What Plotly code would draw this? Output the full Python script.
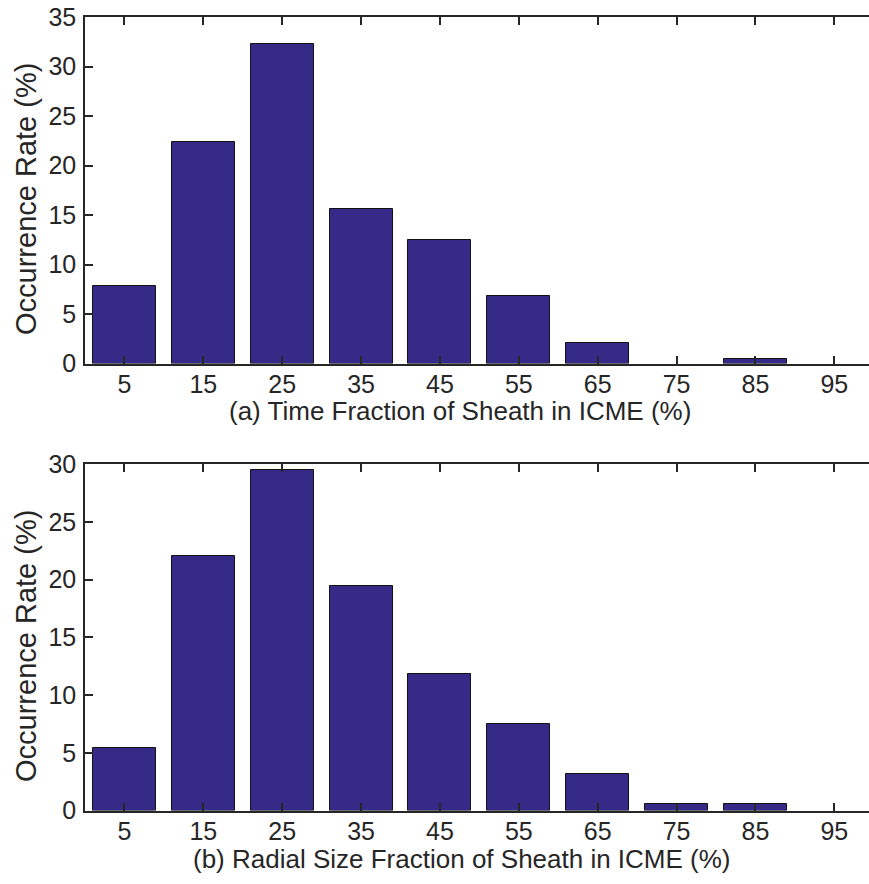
import plotly.graph_objects as go

categories = [5, 15, 25, 35, 45, 55, 65, 75, 85, 95]
time_fraction = [7.8, 22.4, 32.3, 15.6, 12.5, 6.8, 2.1, 0.0, 0.45, 0.0]
radial_fraction = [5.4, 22.0, 29.5, 19.4, 11.8, 7.5, 3.2, 0.52, 0.52, 0.0]
top_yticks = [0, 5, 10, 15, 20, 25, 30, 35]
bot_yticks = [0, 5, 10, 15, 20, 25, 30]
top_title = "(a) Time Fraction of Sheath in ICME (%)"
bot_title = "(b) Radial Size Fraction of Sheath in ICME (%)"
ytitle = "Occurrence Rate (%)"

W, H = 869, 884
L = 85
BAR = "#352A87"
AX = "#262626"
FONT = "Liberation Sans, Arial, sans-serif"

def py(px):
    return 1 - px / H

def edge_widths(vals):
    return [1 if v > 0 else 0 for v in vals]

fig = go.Figure()
fig.add_trace(go.Bar(x=categories, y=time_fraction, width=8,
                     marker=dict(color=BAR, line=dict(color="#111111", width=edge_widths(time_fraction))),
                     xaxis="x", yaxis="y", showlegend=False))
fig.add_trace(go.Bar(x=categories, y=radial_fraction, width=8,
                     marker=dict(color=BAR, line=dict(color="#111111", width=edge_widths(radial_fraction))),
                     xaxis="x2", yaxis="y2", showlegend=False))

xcommon = dict(range=[0, 99.4], tickvals=categories, ticks="inside", ticklen=8, tickwidth=1.5, tickcolor=AX,
               showline=True, linecolor=AX, linewidth=1.5, mirror="ticks", showgrid=False, zeroline=False,
               tickfont=dict(family=FONT, size=25, color=AX), ticklabelstandoff=-2, automargin=False)
ycommon = dict(ticks="inside", ticklen=8, tickwidth=1.5, tickcolor=AX, showline=True, linecolor=AX, linewidth=1.5,
               showgrid=False, zeroline=False, tickfont=dict(family=FONT, size=25, color=AX), ticklabelstandoff=2,
               automargin=False)
ymirror = dict(ticks="inside", ticklen=3, tickwidth=1.5, tickcolor=AX, showticklabels=False, showline=False,
               showgrid=False, zeroline=False, automargin=False)

top_dom = [py(363.5), py(17)]
bot_dom = [py(810.5), py(464)]

fig.update_layout(
    width=W, height=H, margin=dict(l=L, r=0, t=0, b=0, pad=0, autoexpand=False),
    paper_bgcolor="white", plot_bgcolor="white", bargap=0,
    xaxis=dict(domain=[0, 1], anchor="y", **xcommon),
    yaxis=dict(domain=top_dom, anchor="x", range=[0, 35], tickvals=top_yticks, **ycommon),
    xaxis2=dict(domain=[0, 1], anchor="y2", **xcommon),
    yaxis2=dict(domain=bot_dom, anchor="x2", range=[0, 30], tickvals=bot_yticks, **ycommon),
    yaxis3=dict(overlaying="y", side="right", anchor="x", range=[0, 35], tickvals=top_yticks, **ymirror),
    yaxis4=dict(overlaying="y2", side="right", anchor="x2", range=[0, 30], tickvals=bot_yticks, **ymirror),
    font=dict(family=FONT, color=AX),
)

pw = W - L
def ax_x(px):
    return (px - L) / pw

annos = [
    dict(text=top_title, x=ax_x(460), y=py(411), size=26, angle=0),
    dict(text=bot_title, x=ax_x(462), y=py(859), size=26, angle=0),
    dict(text=ytitle, x=ax_x(26), y=py(199), size=29, angle=-90),
    dict(text=ytitle, x=ax_x(26), y=py(646), size=29, angle=-90),
]
for a in annos:
    fig.add_annotation(text=a["text"], x=a["x"], y=a["y"], xref="paper", yref="paper", showarrow=False,
                       xanchor="center", yanchor="middle", textangle=a["angle"],
                       font=dict(family=FONT, size=a["size"], color=AX))

fig.write_html("out.html")
